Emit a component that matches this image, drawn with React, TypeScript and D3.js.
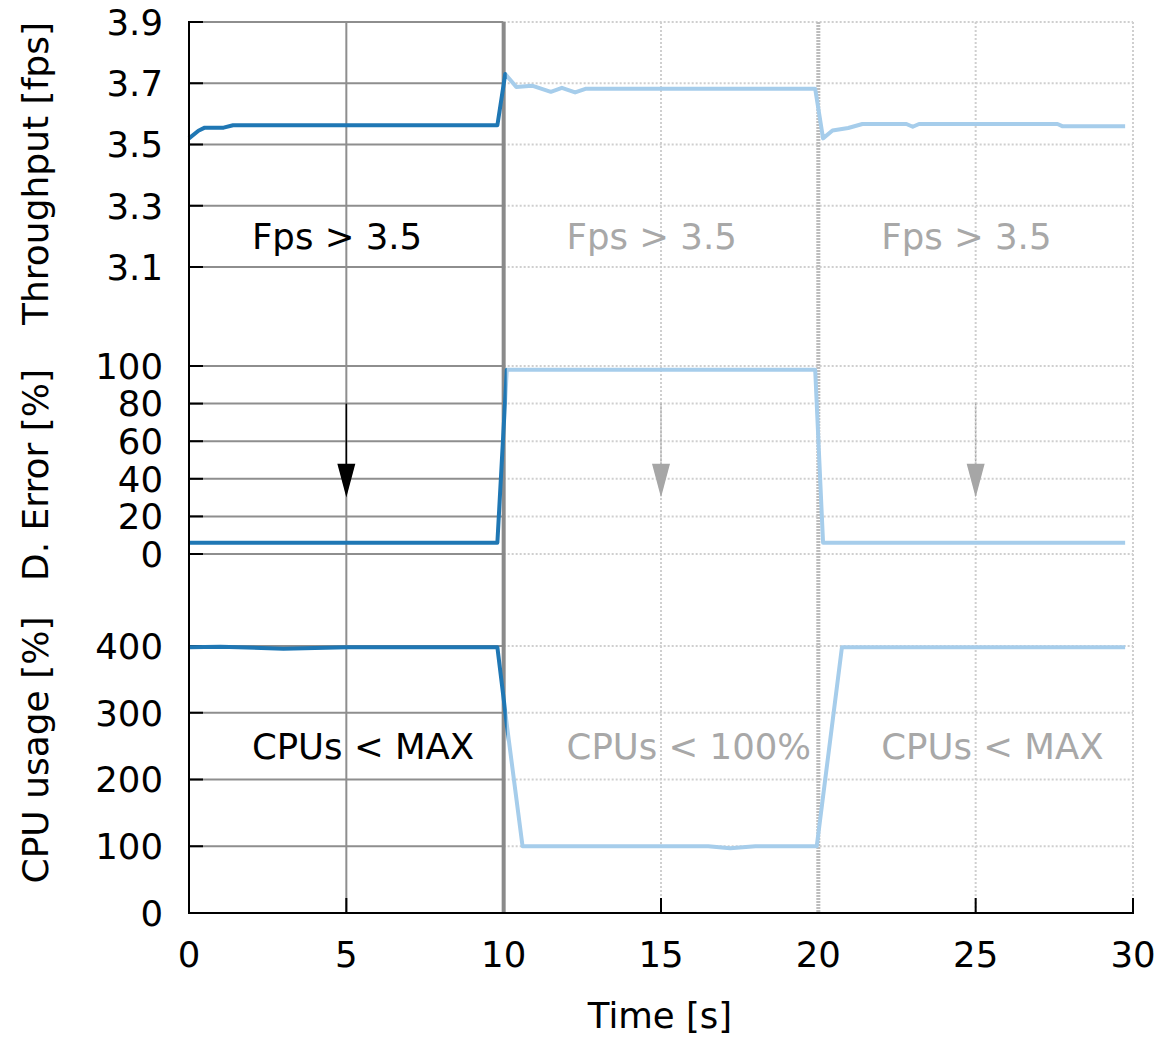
import React from 'react';
import * as d3 from 'd3';

// ---- data (time [s], value) ----
const throughput: [number, number][] = [
  [0, 3.52], [0.3, 3.545], [0.5, 3.555], [1.1, 3.555], [1.4, 3.563], [9.8, 3.563],
  [10.05, 3.73], [10.4, 3.688], [10.9, 3.692], [11.5, 3.672], [11.85, 3.685],
  [12.27, 3.67], [12.6, 3.682], [19.9, 3.682], [20.15, 3.52], [20.45, 3.546],
  [20.95, 3.554], [21.4, 3.567], [22.8, 3.567], [23.0, 3.558], [23.2, 3.567],
  [27.6, 3.567], [27.75, 3.56], [29.75, 3.56],
];
const decisionError: [number, number][] = [
  [0, 6], [9.8, 6], [10.1, 98], [19.9, 98], [20.15, 6], [29.75, 6],
];
const cpuUsage: [number, number][] = [
  [0, 398], [1, 399], [3, 396], [5, 398], [7, 398], [9.8, 398], [10.1, 282],
  [10.6, 100], [15, 100], [16.5, 100], [17.2, 97], [18, 100], [19.95, 100],
  [20.75, 398], [29.75, 398],
];

const xTicks = [0, 5, 10, 15, 20, 25, 30];
const throughputTicks = [3.1, 3.3, 3.5, 3.7, 3.9];
const errorTicks = [0, 20, 40, 60, 80, 100];
const cpuTicks = [0, 100, 200, 300, 400];
const phaseStarts = [0, 10, 20];
const fpsLabels = ['Fps > 3.5', 'Fps > 3.5', 'Fps > 3.5'];
const cpuLabels = ['CPUs < MAX', 'CPUs < 100%', 'CPUs < MAX'];
const arrowTimes = [5, 15, 25];

const FONT = 'DejaVu Sans';
const BLUE = '#1f77b4';
const FADED_BLUE = '#a6cdeb';
const GRID = '#8e8e8e';
const FADED_GRID = '#cfcfcf';
const FADED_TEXT = '#a8a8a8';
const FS = 35.5;

export default function App() {
  const W = 1162, H = 1037;
  const x = d3.scaleLinear().domain([0, 30]).range([189, 1133]);
  const yT = d3.scaleLinear().domain([3.1, 3.9]).range([267, 22]);
  const yE = d3.scaleLinear().domain([0, 100]).range([554, 366]);
  const yC = d3.scaleLinear().domain([0, 400]).range([913, 646]);
  const top = 22, bottom = 913;
  const split = 10.1;

  const lineT = d3.line<[number, number]>().x(d => x(d[0])).y(d => yT(d[1]));
  const lineE = d3.line<[number, number]>().x(d => x(d[0])).y(d => yE(d[1]));
  const lineC = d3.line<[number, number]>().x(d => x(d[0])).y(d => yC(d[1]));

  const hGrid = (ys: number[]) =>
    ys.map((yy, i) => (
      <g key={i}>
        <line x1={x(0)} x2={x(10)} y1={yy} y2={yy} stroke={GRID} strokeWidth={2} />
        <line x1={x(10)} x2={x(30)} y1={yy} y2={yy} stroke={FADED_GRID} strokeWidth={2} strokeDasharray="2,2" />
        <line x1={x(0)} x2={x(0) + 14} y1={yy} y2={yy} stroke="#000" strokeWidth={2} />
      </g>
    ));

  const allY = [
    ...throughputTicks.map(v => yT(v)),
    ...errorTicks.map(v => yE(v)),
    ...cpuTicks.filter(v => v > 0).map(v => yC(v)),
  ];

  const series = [
    { d: lineT(throughput) },
    { d: lineE(decisionError) },
    { d: lineC(cpuUsage) },
  ];

  const tickLabel = (v: number, yy: number, key: string) => (
    <text key={key} x={163} y={yy} dy="0.36em" textAnchor="end" fontFamily={FONT} fontSize={FS} fill="#000">
      {v}
    </text>
  );

  const arrow = (t: number, faded: boolean, key: number) => {
    const cx = x(t);
    const col = faded ? '#a6a6a6' : '#000';
    return (
      <g key={key}>
        <line x1={cx} x2={cx} y1={yE(80)} y2={yE(47)} stroke={col} strokeWidth={1.5} strokeDasharray={faded ? '2,2' : undefined} />
        <path d={`M${cx - 9},${yE(48)} L${cx + 9},${yE(48)} L${cx},${yE(30)} Z`} fill={col} />
      </g>
    );
  };

  return (
    <svg width={W} height={H} style={{ position: 'absolute', left: 0, top: 0, background: '#fff' }}>
      <defs>
        <clipPath id="solidClip">
          <rect x={0} y={0} width={x(split)} height={H} />
        </clipPath>
        <clipPath id="fadedClip">
          <rect x={x(split)} y={0} width={W - x(split)} height={H} />
        </clipPath>
      </defs>
      <rect x={0} y={0} width={W} height={H} fill="#fff" />

      {/* vertical grid */}
      <line x1={x(5)} x2={x(5)} y1={top} y2={bottom} stroke={GRID} strokeWidth={2} />
      {[15, 25].map(t => (
        <line key={t} x1={x(t)} x2={x(t)} y1={top} y2={bottom} stroke={FADED_GRID} strokeWidth={2} strokeDasharray="2,2" />
      ))}
      <line x1={x(30)} x2={x(30)} y1={top} y2={bottom} stroke={FADED_GRID} strokeWidth={2} strokeDasharray="2,2" />

      {/* horizontal grid */}
      {hGrid(allY)}

      {/* phase separators */}
      <line x1={x(10)} x2={x(10)} y1={top} y2={bottom} stroke="#8a8a8a" strokeWidth={4} />
      <line x1={x(20)} x2={x(20)} y1={top} y2={bottom} stroke="#bdbdbd" strokeWidth={4} strokeDasharray="2,1" />

      {/* arrows */}
      {arrowTimes.map((t, i) => arrow(t, i > 0, i))}

      {/* annotations */}
      {phaseStarts.map((p, i) => (
        <g key={i}>
          <text x={x(p + 2)} y={yT(3.2)} dy="0.36em" fontFamily={FONT} fontSize={FS} fill={i === 0 ? '#000' : FADED_TEXT}>
            {fpsLabels[i]}
          </text>
          <text x={x(p + 2)} y={yC(250)} dy="0.36em" fontFamily={FONT} fontSize={FS} fill={i === 0 ? '#000' : FADED_TEXT}>
            {cpuLabels[i]}
          </text>
        </g>
      ))}

      {/* series */}
      {series.map((s, i) => (
        <g key={i}>
          <path d={s.d || ''} fill="none" stroke={FADED_BLUE} strokeWidth={4} clipPath="url(#fadedClip)" strokeLinejoin="round" />
          <path d={s.d || ''} fill="none" stroke={BLUE} strokeWidth={4} clipPath="url(#solidClip)" strokeLinejoin="round" />
        </g>
      ))}

      {/* axes */}
      <line x1={x(0)} x2={x(0)} y1={top - 1} y2={bottom + 1} stroke="#000" strokeWidth={2} />
      <line x1={x(0) - 1} x2={x(30) + 1} y1={bottom} y2={bottom} stroke="#000" strokeWidth={2} />
      {[5, 15, 25, 30].map(t => (
        <line key={t} x1={x(t)} x2={x(t)} y1={bottom} y2={bottom - 15} stroke="#000" strokeWidth={2} />
      ))}

      {/* tick labels */}
      {throughputTicks.map(v => tickLabel(v, yT(v), 't' + v))}
      {errorTicks.map(v => tickLabel(v, yE(v), 'e' + v))}
      {cpuTicks.map(v => tickLabel(v, yC(v), 'c' + v))}
      {xTicks.map(t => (
        <text key={t} x={x(t)} y={967} textAnchor="middle" fontFamily={FONT} fontSize={FS} fill="#000">
          {t}
        </text>
      ))}

      {/* axis titles */}
      <text x={660} y={1028} textAnchor="middle" fontFamily={FONT} fontSize={FS} fill="#000">Time [s]</text>
      <text transform={`translate(48,${(top + 325) / 2}) rotate(-90)`} textAnchor="middle" fontFamily={FONT} fontSize={36} fill="#000">Throughput [fps]</text>
      <text transform={`translate(48,${(365 + 585) / 2}) rotate(-90)`} textAnchor="middle" fontFamily={FONT} fontSize={36} fill="#000">D. Error [%]</text>
      <text transform={`translate(48,${(595 + 905) / 2}) rotate(-90)`} textAnchor="middle" fontFamily={FONT} fontSize={36} fill="#000">CPU usage [%]</text>
    </svg>
  );
}
